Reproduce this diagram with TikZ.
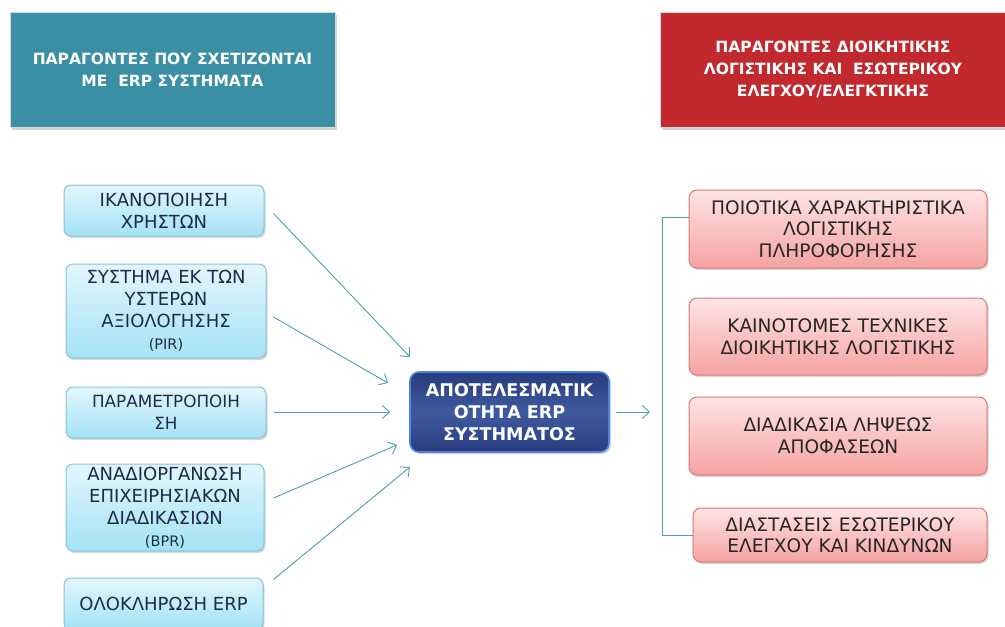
\documentclass[tikz,border=0pt]{standalone}
\usepackage{fontspec}
\setmainfont{DejaVu Sans}
\usetikzlibrary{arrows.meta,shadows,calc}
\definecolor{teal1}{HTML}{3A8FA5}
\definecolor{red1}{HTML}{C1292E}
\definecolor{lineC}{HTML}{4E9EB2}
\definecolor{navyT}{HTML}{1E2B48}
\definecolor{ltop}{HTML}{E2F6FC}
\definecolor{lbot}{HTML}{A4E2F6}
\definecolor{lbrd}{HTML}{86C4D8}
\definecolor{rtop}{HTML}{FFE4E4}
\definecolor{rbot}{HTML}{F5A2A2}
\definecolor{rbrd}{HTML}{D67878}
\begin{document}
\begin{tikzpicture}[x=1pt,y=-1pt,
  title/.style={draw=white!85!black,line width=1pt,text=white,align=center,
    font=\fontsize{15.5}{22}\selectfont\bfseries,
    drop shadow={opacity=0.35,shadow xshift=2pt,shadow yshift=-3pt}},
  lbox/.style={rounded corners=7pt,draw=lbrd,line width=1pt,
    top color=ltop,bottom color=lbot,align=center,text=navyT,
    font=\fontsize{18}{22}\selectfont,inner sep=2pt,
    drop shadow={opacity=0.3,shadow xshift=1.5pt,shadow yshift=-2pt}},
  rbox/.style={rounded corners=8pt,draw=rbrd,line width=1pt,
    top color=rtop,bottom color=rbot,align=center,text=black!85,
    font=\fontsize{18.6}{21.5}\selectfont,inner sep=2pt,
    drop shadow={opacity=0.3,shadow xshift=1.5pt,shadow yshift=-2pt}},
  cbox/.style={rounded corners=9pt,draw={rgb,255:red,80;green,130;blue,225},line width=1.6pt,
    top color={rgb,255:red,40;green,60;blue,125},bottom color={rgb,255:red,40;green,60;blue,125},
    middle color={rgb,255:red,64;green,90;blue,160},align=center,text=white,
    font=\fontsize{17.5}{22}\selectfont\bfseries,inner sep=2pt,
    drop shadow={opacity=0.35,shadow xshift=2pt,shadow yshift=-2pt}},
  arr/.style={draw=lineC,line width=0.9pt,-{Straight Barb[length=7pt,width=13pt]}},
  brk/.style={draw=lineC,line width=0.9pt}]
\useasboundingbox (0,0) rectangle (1005,627);
\fill[white] (0,0) rectangle (1005,627);
% titles
\node[title,fill=teal1,minimum width=325,minimum height=115] (T1) at (172.5,69.5)
  {ΠΑΡΑΓΟΝΤΕΣ ΠΟΥ ΣΧΕΤΙΖΟΝΤΑΙ\\ΜΕ \ ERP ΣΥΣΤΗΜΑΤΑ};
\node[title,fill=red1,minimum width=346,minimum height=115] (T2) at (833,69.5)
  {ΠΑΡΑΓΟΝΤΕΣ ΔΙΟΙΚΗΤΙΚΗΣ\\ΛΟΓΙΣΤΙΚΗΣ ΚΑΙ \ ΕΣΩΤΕΡΙΚΟΥ\\ΕΛΕΓΧΟΥ/ΕΛΕΓΚΤΙΚΗΣ};
% left boxes
\node[lbox,minimum width=200,minimum height=51] (L1) at (164,210.5) {ΙΚΑΝΟΠΟΙΗΣΗ\\ΧΡΗΣΤΩΝ};
\node[lbox,minimum width=200,minimum height=94] (L2) at (166,311)
  {ΣΥΣΤΗΜΑ ΕΚ ΤΩΝ\\ΥΣΤΕΡΩΝ\\ΑΞΙΟΛΟΓΗΣΗΣ\\{\fontsize{14.5}{22}\selectfont (PIR)}};
\node[lbox,minimum width=200,minimum height=51,font=\fontsize{16.8}{22}\selectfont] (L3) at (166,412.5) {ΠΑΡΑΜΕΤΡΟΠΟΙΗ\\ΣΗ};
\node[lbox,minimum width=198,minimum height=87] (L4) at (165,507.5)
  {ΑΝΑΔΙΟΡΓΑΝΩΣΗ\\ΕΠΙΧΕΙΡΗΣΙΑΚΩΝ\\ΔΙΑΔΙΚΑΣΙΩΝ\\{\fontsize{14.5}{20}\selectfont (BPR)}};
\node[lbox,minimum width=199,minimum height=52] (L5) at (163.5,604) {ΟΛΟΚΛΗΡΩΣΗ ERP};
% centre
\node[cbox,minimum width=199,minimum height=80] (C) at (509.5,412)
  {ΑΠΟΤΕΛΕΣΜΑΤΙΚ\\ΟΤΗΤΑ ERP\\ΣΥΣΤΗΜΑΤΟΣ};
% right boxes
\node[rbox,minimum width=298,minimum height=78] (R1) at (838,229)
  {ΠΟΙΟΤΙΚΑ ΧΑΡΑΚΤΗΡΙΣΤΙΚΑ\\ΛΟΓΙΣΤΙΚΗΣ\\ΠΛΗΡΟΦΟΡΗΣΗΣ};
\node[rbox,minimum width=298,minimum height=77] (R2) at (838,336.5)
  {ΚΑΙΝΟΤΟΜΕΣ ΤΕΧΝΙΚΕΣ\\ΔΙΟΙΚΗΤΙΚΗΣ ΛΟΓΙΣΤΙΚΗΣ};
\node[rbox,minimum width=298,minimum height=78] (R3) at (838,436)
  {ΔΙΑΔΙΚΑΣΙΑ ΛΗΨΕΩΣ\\ΑΠΟΦΑΣΕΩΝ};
\node[rbox,minimum width=294,minimum height=54] (R4) at (840,535)
  {ΔΙΑΣΤΑΣΕΙΣ ΕΣΩΤΕΡΙΚΟΥ\\ΕΛΕΓΧΟΥ ΚΑΙ ΚΙΝΔΥΝΩΝ};
% arrow ends
\coordinate (e1) at (410,357);
\coordinate (e2) at (388,383);
\coordinate (e3) at (390,412);
\coordinate (e4) at (397,445);
\coordinate (e5) at (410,467);
\coordinate (e6) at (650,412);
\draw[arr] ($(L1.east)+(9,3)$) -- (e1);
\draw[arr] ($(L2.east)+(7,6)$) -- (e2);
\draw[arr] ($(L3.east)+(7,-0.5)$) -- (e3);
\draw[arr] ($(L4.east)+(9,-9.5)$) -- (e4);
\draw[arr] ($(L5.north east)+(10,2)$) -- (e5);
\draw[arr] ($(C.east)+(6,0)$) -- (e6);
% bracket
\coordinate (b1) at (662,217);
\coordinate (b2) at (662,535);
\draw[brk] ($(R1.west)+(0,-12)$) -- (b1) -- (b2) -- (R4.west);
\end{tikzpicture}
\end{document}
